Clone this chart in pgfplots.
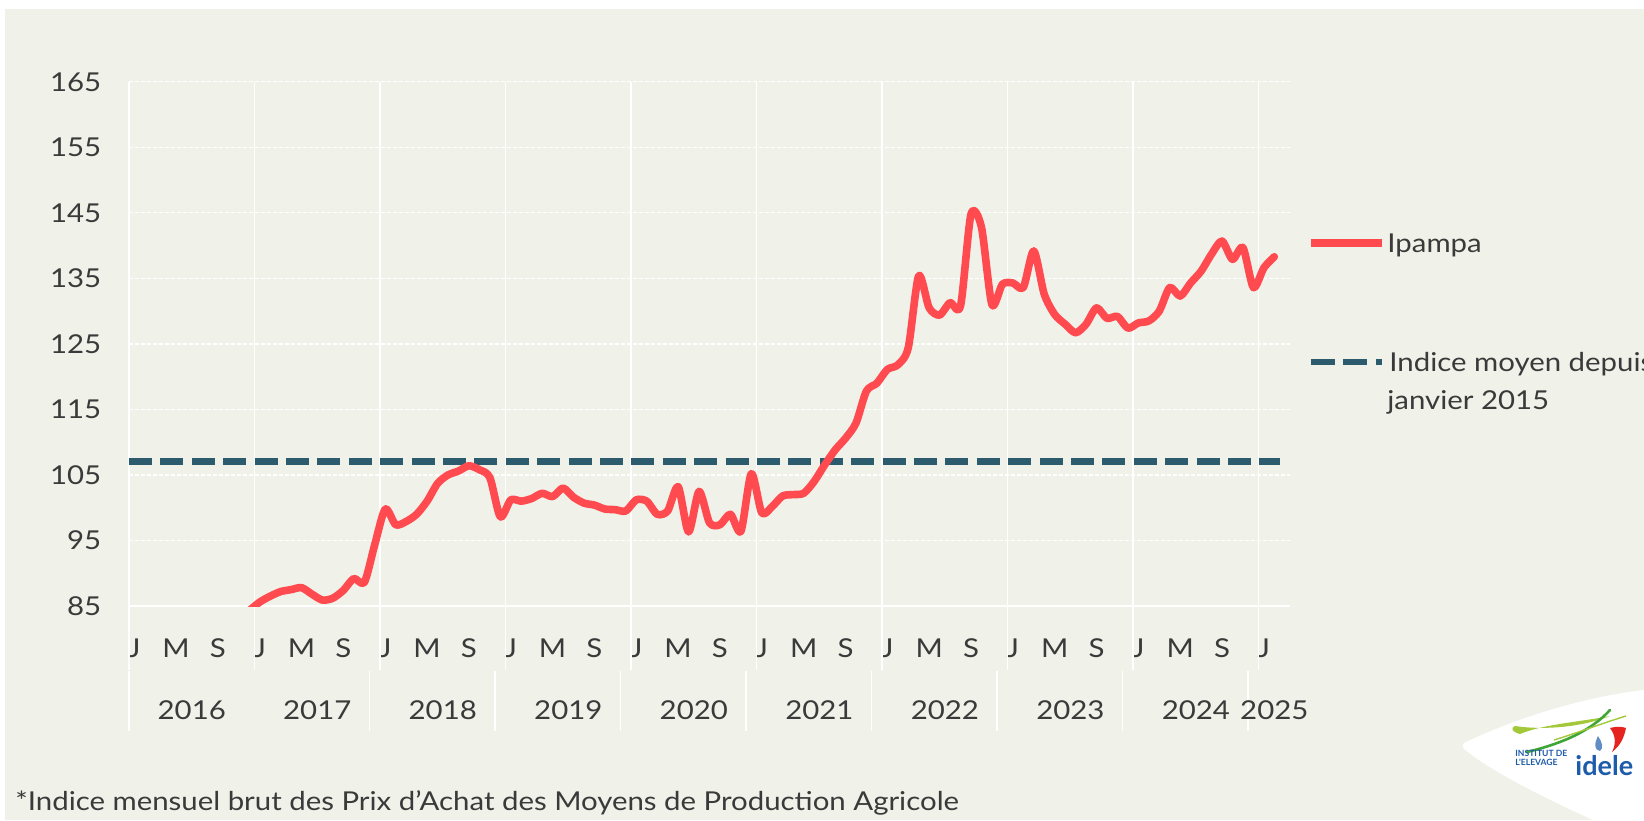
\documentclass[border=0pt]{standalone}
\usepackage{fontspec}
\setmainfont{Lato}[FakeStretch=1.13]
\newfontfamily\logofont{Lato}
\usepackage{pgfplots}
\pgfplotsset{compat=1.18}
\definecolor{bg}{HTML}{F0F1E9}
\definecolor{redl}{HTML}{FF4A50}
\definecolor{teal}{HTML}{2B5B6C}
\definecolor{txt}{HTML}{3A3A3A}
\definecolor{logoblue}{HTML}{1E5BAA}
\definecolor{lgreen}{HTML}{A3C83A}
\definecolor{dgreen}{HTML}{3FA535}
\definecolor{logored}{HTML}{E52420}
\begin{document}
\begin{tikzpicture}[x=1pt,y=1pt]
\useasboundingbox (0,0) rectangle (822,410);
\fill[white] (0,0) rectangle (822,410);
\fill[bg] (2.5,0) rectangle (822,405.5);
\begin{axis}[
  at={(64.5pt,107pt)}, anchor=south west,
  scale only axis, width=580.5pt, height=262.1pt,
  xmin=-0.5, xmax=110.5, ymin=85, ymax=165,
  axis line style={draw=none},
  tick style={draw=none},
  major tick length=0pt,
  ytick={85,95,...,165},
  xtick={0,4,...,108},
  xticklabels={J,M,S,J,M,S,J,M,S,J,M,S,J,M,S,J,M,S,J,M,S,J,M,S,J,M,S,J},
  ymajorgrids,
  grid style={white, line width=0.6pt, dash pattern=on 2pt off 1pt},
  tick label style={font=\fontsize{13}{15}\selectfont, text=txt},
  /pgf/number format/assume math mode=true,
  xticklabel style={anchor=base, yshift=-25.5pt},
  yticklabel style={anchor=east, xshift=-10.4pt},
  clip mode=individual,
]
% vertical year gridlines (upper part, extending under month labels)
\foreach \xx in {-0.5,11.5,23.5,35.5,47.5,59.5,71.5,83.5,95.5,107.5}{
  \edef\temp{\noexpand\draw[white, line width=0.8pt] (axis cs:\xx,165) -- ([yshift=-32pt]axis cs:\xx,85);}
  \temp
}
% lower separators of the year row
\foreach \xx in {-0.5,22.5,34.5,46.5,58.5,70.5,82.5,94.5,106.5}{
  \edef\temp{\noexpand\draw[white, line width=0.8pt] ([yshift=-32.5pt]axis cs:\xx,85) -- ([yshift=-62.5pt]axis cs:\xx,85);}
  \temp
}
\draw[white, line width=0.8pt] (axis cs:-0.5,85) -- (axis cs:110.5,85);
% mean index
\addplot[teal, line width=3.4pt, dash pattern=on 11.5pt off 4.2pt] coordinates {(-0.5,107) (109.5,107)};
% Ipampa
\addplot[redl, line width=3.8pt, smooth, tension=0.45, line cap=round, line join=round] coordinates {
(11,84.3) (12,85.6) (13,86.5) (14,87.2) (15,87.5) (16,87.8) (17,86.8) (18,85.9) (19,86.2) (20,87.4) (21,89.2) (22,88.6) (23,94.4)
(24,99.8) (25,97.4) (26,97.9) (27,99.0) (28,101.0) (29,103.7) (30,105.0) (31,105.6) (32,106.4) (33,105.8) (34,104.6) (35,98.6)
(36,101.2) (37,101.0) (38,101.4) (39,102.2) (40,101.7) (41,103.0) (42,101.6) (43,100.7) (44,100.4) (45,99.8) (46,99.7) (47,99.5)
(48,101.2) (49,101.0) (50,99.0) (51,99.5) (52,103.2) (53,96.3) (54,102.5) (55,97.7) (56,97.4) (57,99.0) (58,96.4) (59,105.2)
(60,99.2) (61,100.2) (62,101.8) (63,102.0) (64,102.2) (65,104.0) (66,106.5) (67,108.8) (68,110.6) (69,112.9) (70,117.8) (71,119.0)
(72,121.1) (73,121.8) (74,124.4) (75,135.4) (76,130.5) (77,129.4) (78,131.3) (79,130.8) (80,144.8) (81,142.8) (82,131.0) (83,134.1)
(84,134.3) (85,133.6) (86,139.2) (87,132.6) (88,129.5) (89,128.0) (90,126.7) (91,128.0) (92,130.5) (93,128.9) (94,129.2) (95,127.4)
(96,128.2) (97,128.5) (98,130.0) (99,133.6) (100,132.3) (101,134.3) (102,136.1) (103,138.7) (104,140.7) (105,137.9) (106,139.7) (107,133.6)
(108,136.6) (109,138.3)
};
% year labels
\foreach \xx/\yy in {5.5/2016,17.5/2017,29.5/2018,41.5/2019,53.5/2020,65.5/2021,77.5/2022,89.5/2023,101.5/2024,109/2025}{
  \edef\temp{\noexpand\node[anchor=base, font=\noexpand\fontsize{13}{15}\noexpand\selectfont, text=txt, inner sep=0pt] at ([yshift=-56.75pt]axis cs:\xx,85) {\yy};}
  \temp
}
\end{axis}
% legend
\draw[redl, line width=3.8pt] (655.3,288.5) -- (691,288.5);
\node[anchor=base west, inner sep=0pt, font=\fontsize{13}{15}\selectfont, text=txt] at (693.5,283.8) {Ipampa};
\draw[teal, line width=3.4pt, dash pattern=on 12pt off 4.3pt] (655.3,229) -- (691,229);
\node[anchor=base west, inner sep=0pt, font=\fontsize{13}{15}\selectfont, text=txt] at (694.5,224.2) {Indice moyen depuis};
\node[anchor=base west, inner sep=0pt, font=\fontsize{13}{15}\selectfont, text=txt] at (693.5,205) {janvier 2015};
% footnote
\node[anchor=base west, inner sep=0pt, font=\fontsize{13}{15}\selectfont, text=txt] at (7.5,4.6) {*Indice mensuel brut des Prix d’Achat des Moyens de Production Agricole};
% logo
\fill[white] (732,38.5) .. controls (760,52) and (795,62) .. (822,65) -- (822,0) -- (796.5,0) .. controls (770,12) and (745,25) .. (734,34) .. controls (731,36) and (731,37.5) .. (732,38.5);
\fill[lgreen] (757.5,47) .. controls (770,45) and (790,46) .. (805,52) .. controls (790,49) and (772,48) .. (760,43) .. controls (756,44) and (755,46) .. (757.5,47);
\draw[dgreen, line width=1.3pt, line cap=round] (763.5,34) .. controls (780,38) and (795,44) .. (805,55);
\draw[lgreen, line width=0.7pt] (777,40) .. controls (790,44) and (800,48) .. (813,52);
\fill[logored] (805,46) .. controls (808,47) and (812,46.5) .. (813,46) .. controls (812,41) and (810,37) .. (806,34) .. controls (808,38) and (808,42) .. (805,46);
\fill[logoblue!70] (799,42) .. controls (801,39) and (802,36) .. (800,34.5) .. controls (797,35) and (797,38) .. (799,42);
\node[anchor=base west, inner sep=0pt, font=\logofont\bfseries\fontsize{4.3}{4.6}\selectfont, text=logoblue, align=left] at (757.5,27.5) {INSTITUT DE\\[-0.5pt]L'ELEVAGE};
\node[anchor=base west, inner sep=0pt, font=\logofont\bfseries\fontsize{13.5}{14}\selectfont, text=logoblue] at (787.5,22.5) {idele};
\end{tikzpicture}
\end{document}
